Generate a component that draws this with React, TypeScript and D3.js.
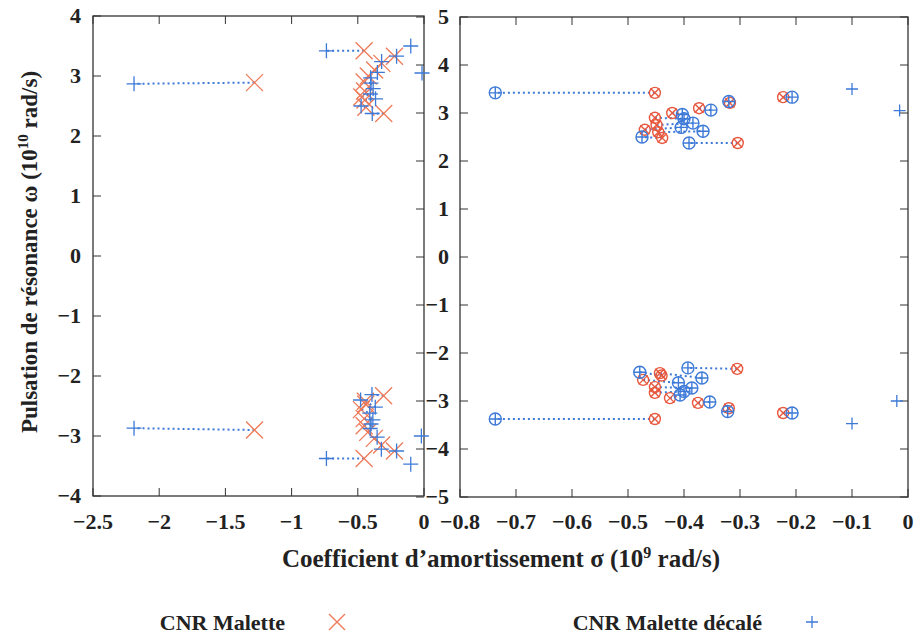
import React from "react";
import * as d3 from "d3";

// CNR Malette (red) — sigma in 1e9 rad/s, omega in 1e10 rad/s
const redSigmaPos = [-1.28, -0.452, -0.223, -0.318, -0.373, -0.421, -0.452, -0.449, -0.47, -0.446, -0.439, -0.304];
const redOmegaPos = [2.89, 3.42, 3.33, 3.21, 3.1, 3.0, 2.9, 2.75, 2.65, 2.6, 2.48, 2.375];
const redSigmaNeg = [-1.28, -0.452, -0.223, -0.32, -0.375, -0.425, -0.452, -0.452, -0.473, -0.443, -0.44, -0.305];
const redOmegaNeg = [-2.9, -3.375, -3.25, -3.15, -3.04, -2.94, -2.83, -2.71, -2.56, -2.42, -2.47, -2.33];

// CNR Malette décalé (blue), paired with red by index
const blueSigmaPos = [-2.19, -0.737, -0.207, -0.32, -0.352, -0.403, -0.4, -0.384, -0.405, -0.366, -0.475, -0.391];
const blueOmegaPos = [2.87, 3.42, 3.33, 3.24, 3.06, 2.97, 2.88, 2.79, 2.7, 2.62, 2.5, 2.375];
const blueSigmaNeg = [-2.19, -0.737, -0.207, -0.322, -0.354, -0.407, -0.4, -0.386, -0.41, -0.368, -0.479, -0.393];
const blueOmegaNeg = [-2.87, -3.375, -3.25, -3.22, -3.02, -2.875, -2.8, -2.73, -2.62, -2.52, -2.4, -2.31];

// unpaired blue poles
const blueSoloSigma = [-0.1, -0.015, -0.1, -0.02];
const blueSoloOmega = [3.5, 3.05, -3.47, -3.0];

const leftXTicks = [-2.5, -2, -1.5, -1, -0.5, 0];
const leftYTicks = [-4, -3, -2, -1, 0, 1, 2, 3, 4];
const rightXTicks = [-0.8, -0.7, -0.6, -0.5, -0.4, -0.3, -0.2, -0.1, 0];
const rightYTicks = [-5, -4, -3, -2, -1, 0, 1, 2, 3, 4, 5];

const RED = "#e8583e";
const RED_L = "#ee7a58";
const BLUE = "#3d7ad8";
const FONT = "'Liberation Serif', 'DejaVu Serif', serif";

const fmt = (v: number) => (v < 0 ? "\u2212" + String(Math.abs(v)) : String(v));

const redPts = [
  ...redSigmaPos.map((s, i) => ({ s, w: redOmegaPos[i] })),
  ...redSigmaNeg.map((s, i) => ({ s, w: redOmegaNeg[i] })),
];
const bluePts = [
  ...blueSigmaPos.map((s, i) => ({ s, w: blueOmegaPos[i] })),
  ...blueSigmaNeg.map((s, i) => ({ s, w: blueOmegaNeg[i] })),
];
const soloPts = blueSoloSigma.map((s, i) => ({ s, w: blueSoloOmega[i] }));

function Cross({ x, y, r, color, w = 1.3 }: any) {
  return (
    <path d={`M${x - r},${y - r}L${x + r},${y + r}M${x - r},${y + r}L${x + r},${y - r}`} stroke={color} strokeWidth={w} fill="none" />
  );
}
function Plus({ x, y, r, color, w = 1.3 }: any) {
  return <path d={`M${x - r},${y}L${x + r},${y}M${x},${y - r}L${x},${y + r}`} stroke={color} strokeWidth={w} fill="none" />;
}

export default function App() {
  const xL = d3.scaleLinear().domain([-2.5, 0]).range([93, 424]);
  const yL = d3.scaleLinear().domain([-4, 4]).range([496, 16]);
  const xR = d3.scaleLinear().domain([-0.8, 0]).range([460, 908]);
  const yR = d3.scaleLinear().domain([-5, 5]).range([497, 17]);
  const tk = 8;
  const axisColor = "#333";
  const tickFs = 22;

  return (
    <svg width={917} height={637} style={{ position: "absolute", left: 0, top: 0, background: "#fff" }} fontFamily={FONT}>
      {/* LEFT PANEL */}
      <g>
        <rect x={xL(-2.5)} y={yL(4)} width={xL(0) - xL(-2.5)} height={yL(-4) - yL(4)} fill="none" stroke={axisColor} strokeWidth={1.3} />
        {leftXTicks.map((t) => (
          <g key={"lx" + t}>
            <line x1={xL(t)} x2={xL(t)} y1={yL(-4)} y2={yL(-4) - tk} stroke={axisColor} />
            <line x1={xL(t)} x2={xL(t)} y1={yL(4)} y2={yL(4) + tk} stroke={axisColor} />
            <text x={xL(t)} y={529} textAnchor="middle" fontSize={tickFs} fontWeight="bold" fill="#222">{fmt(t)}</text>
          </g>
        ))}
        {leftYTicks.map((t) => (
          <g key={"ly" + t}>
            <line x1={xL(-2.5)} x2={xL(-2.5) + tk} y1={yL(t)} y2={yL(t)} stroke={axisColor} />
            <text x={81} y={yL(t) + 7} textAnchor="end" fontSize={tickFs} fontWeight="bold" fill="#222">{fmt(t)}</text>
          </g>
        ))}
        {rightYTicks.map((t) => (
          <line key={"lyr" + t} x1={xL(0)} x2={xL(0) - tk} y1={yR(t)} y2={yR(t)} stroke={axisColor} />
        ))}
        {redPts.map((p, i) => (
          <line key={"ll" + i} x1={xL(p.s)} y1={yL(p.w)} x2={xL(bluePts[i].s)} y2={yL(bluePts[i].w)} stroke={BLUE} strokeWidth={2} strokeDasharray="2,3" />
        ))}
        {redPts.map((p, i) => (
          <Cross key={"lr" + i} x={xL(p.s)} y={yL(p.w)} r={8.5} color={RED_L} />
        ))}
        {bluePts.concat(soloPts).map((p, i) => (
          <Plus key={"lb" + i} x={xL(p.s)} y={yL(p.w)} r={7.5} color={BLUE} />
        ))}
      </g>

      {/* RIGHT PANEL */}
      <g>
        <rect x={xR(-0.8)} y={yR(5)} width={xR(0) - xR(-0.8)} height={yR(-5) - yR(5)} fill="none" stroke={axisColor} strokeWidth={1.3} />
        {rightXTicks.map((t) => (
          <g key={"rx" + t}>
            <line x1={xR(t)} x2={xR(t)} y1={yR(-5)} y2={yR(-5) - tk} stroke={axisColor} />
            <line x1={xR(t)} x2={xR(t)} y1={yR(5)} y2={yR(5) + tk} stroke={axisColor} />
            <text x={xR(t)} y={529} textAnchor="middle" fontSize={tickFs} fontWeight="bold" fill="#222">{fmt(t)}</text>
          </g>
        ))}
        {rightYTicks.map((t) => (
          <g key={"ry" + t}>
            <line x1={xR(-0.8)} x2={xR(-0.8) + tk} y1={yR(t)} y2={yR(t)} stroke={axisColor} />
            <line x1={xR(0)} x2={xR(0) - tk} y1={yR(t)} y2={yR(t)} stroke={axisColor} />
            <text x={449} y={yR(t) + 7} textAnchor="end" fontSize={tickFs} fontWeight="bold" fill="#222">{fmt(t)}</text>
          </g>
        ))}
        <g>
          {redPts.filter((p) => p.s >= -0.8).map((p, i) => {
            const j = redPts.indexOf(p);
            const b = bluePts[j];
            return (
              <line key={"rl" + i} x1={xR(p.s)} y1={yR(p.w)} x2={xR(b.s)} y2={yR(b.w)} stroke={BLUE} strokeWidth={2} strokeDasharray="2,3" />
            );
          })}
          {redPts.filter((p) => p.s >= -0.8).map((p, i) => (
            <g key={"rr" + i}>
              <circle cx={xR(p.s)} cy={yR(p.w)} r={5.5} fill="none" stroke={RED} strokeWidth={1.4} />
              <Cross x={xR(p.s)} y={yR(p.w)} r={4.5} color={RED} w={1.4} />
            </g>
          ))}
          {bluePts.filter((p) => p.s >= -0.8).map((p, i) => (
            <g key={"rb" + i}>
              <circle cx={xR(p.s)} cy={yR(p.w)} r={6} fill="none" stroke={BLUE} strokeWidth={1.4} />
              <Plus x={xR(p.s)} y={yR(p.w)} r={6} color={BLUE} w={1.4} />
            </g>
          ))}
          {soloPts.map((p, i) => (
            <Plus key={"rs" + i} x={xR(p.s)} y={yR(p.w)} r={6} color={BLUE} w={1.3} />
          ))}
        </g>
      </g>

      {/* AXIS TITLES */}
      <text x={501} y={567} textAnchor="middle" fontSize={25} fontWeight="bold" fill="#222">
        Coefficient d’amortissement σ (10<tspan dy={-9} fontSize={16}>9</tspan><tspan dy={9}> rad/s)</tspan>
      </text>
      <text transform="translate(37,252) rotate(-90)" textAnchor="middle" fontSize={23} fontWeight="bold" fill="#222">
        Pulsation de résonance ω (10<tspan dy={-9} fontSize={15}>10</tspan><tspan dy={9}> rad/s)</tspan>
      </text>

      {/* LEGEND */}
      <text x={285} y={630} textAnchor="end" fontSize={22} fontWeight="bold" fill="#222">CNR Malette</text>
      <Cross x={337} y={622} r={8} color={RED_L} w={1.4} />
      <text x={762} y={630} textAnchor="end" fontSize={22} fontWeight="bold" fill="#222">CNR Malette décalé</text>
      <Plus x={812} y={622} r={6} color={BLUE} w={1.3} />
    </svg>
  );
}
